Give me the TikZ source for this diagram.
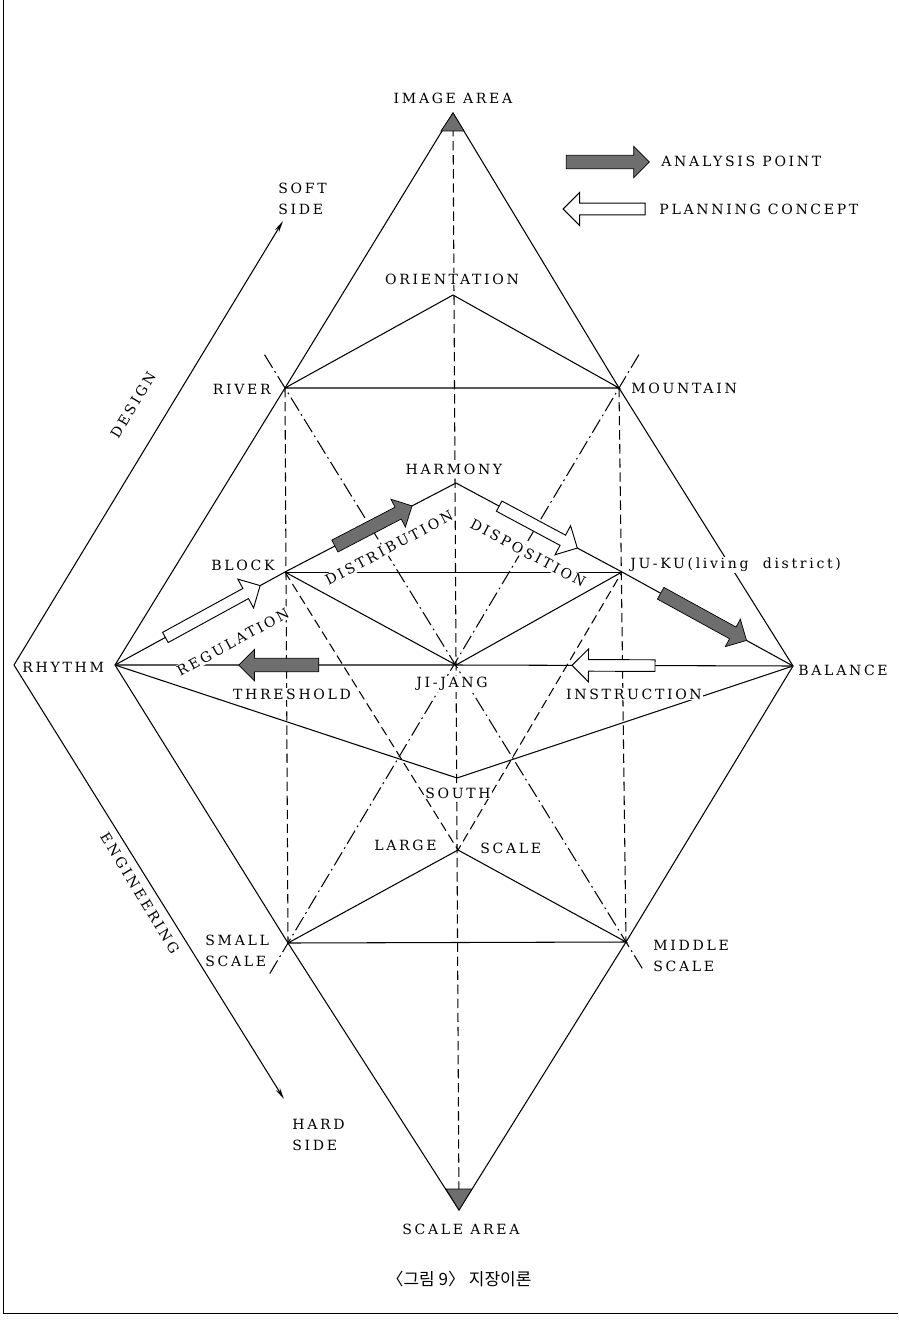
\documentclass[tikz,border=0pt]{standalone}
\usepackage{fontspec}
\usepackage{tikz}
\usetikzlibrary{arrows.meta,shapes.arrows,calc}
\newfontfamily\lblfont[LetterSpace=19]{DejaVu Serif}
\newfontfamily\kofont{Noto Sans CJK KR}
\definecolor{tone}{HTML}{6E6E6E}

\begin{document}
\begin{tikzpicture}[x=0.03cm,y=-0.03cm,
  lbl/.style={font=\lblfont\fontsize{12}{18.5}\selectfont,inner sep=1pt,fill=white,align=left},
  solidln/.style={line width=0.9pt},
  dashln/.style={line width=0.9pt,dash pattern=on 8pt off 4pt},
  chainln/.style={line width=0.9pt,dash pattern=on 13pt off 3.5pt on 1.5pt off 3.5pt},
  anaarrow/.style={single arrow,draw=black,line width=0.6pt,fill=tone,inner xsep=0pt,inner ysep=0.19cm,single arrow head extend=0.27cm},
  plnarrow/.style={single arrow,draw=black,line width=0.8pt,fill=white,inner xsep=0pt,inner ysep=0.16cm,single arrow head extend=0.32cm}]
\useasboundingbox (0,0) rectangle (898,1323);
% frame
\draw[line width=0.8pt] (3,0) -- (3,1313) -- (898,1313);

% points of the diagram
\coordinate (imgapex) at (453,113);
\coordinate (sclapex) at (459,1210);
\coordinate (rhythm) at (115,665);
\coordinate (balance) at (793,666);
\coordinate (river) at (285,388);
\coordinate (mountain) at (619,388);
\coordinate (orient) at (453,295);
\coordinate (harmony) at (456,483);
\coordinate (block) at (285,572);
\coordinate (juku) at (622,572);
\coordinate (jijang) at (456,665);
\coordinate (south) at (457,778);
\coordinate (large) at (458,850);
\coordinate (small) at (288,943);
\coordinate (middle) at (626,942);
\coordinate (rivtop) at ($(river)!-0.06!(middle)$);
\coordinate (midbot) at ($(middle)!-0.05!(river)$);
\coordinate (mnttop) at ($(mountain)!-0.06!(small)$);
\coordinate (smlbot) at ($(small)!-0.06!(mountain)$);
\coordinate (softtip) at (283,221);
\coordinate (bend) at (14,665);
\coordinate (hardtip) at (284,1099);

% design / engineering bracket
\draw[line width=0.9pt,{Stealth[open,length=10pt,width=4pt]}-{Stealth[open,length=10pt,width=4pt]}] (softtip) -- (bend) -- (hardtip);

% solid lines
\draw[solidln] (imgapex) -- (river) -- (rhythm) -- (small) -- (sclapex) -- (middle) -- (balance) -- (mountain) -- cycle;
\draw[solidln] (river) -- (orient) -- (mountain) -- (river);
\draw[solidln] (rhythm) -- (block) -- (harmony) -- (juku) -- (balance);
\draw[solidln] (rhythm) -- (jijang) -- (balance);
\draw[solidln] (rhythm) -- (south) -- (balance);
\draw[solidln] (block) -- (jijang) -- (juku);
\draw[line width=0.6pt] (block) -- (juku);
\draw[solidln] (small) -- (large) -- (middle) -- (small);
% dashed lines
\draw[dashln] (imgapex) -- (sclapex);
\draw[dashln] (river) -- (small);
\draw[dashln] (mountain) -- (middle);
\draw[dashln] (block) -- (large) -- (juku);
% chain lines
\draw[chainln] (rivtop) -- (midbot);
\draw[chainln] (mnttop) -- (smlbot);

% area marks
\fill[tone,draw=black,line width=0.6pt] (imgapex) -- ++(-12,18) -- ++(23,0) -- cycle;
\fill[tone,draw=black,line width=0.6pt] (sclapex) -- ++(-13,-21) -- ++(26,0) -- cycle;

% arrows on the lines
\path (block) -- (harmony) node[anaarrow,sloped,pos=0.5,minimum height=2.61cm] (distarr) {};
\path (juku) -- (balance) node[anaarrow,sloped,pos=0.46,minimum height=2.94cm] (balarr) {};
\path (jijang) -- (rhythm) node[anaarrow,sloped,allow upside down,pos=0.51,minimum height=2.4cm] (thrarr) {};
\path (rhythm) -- (block) node[plnarrow,sloped,pos=0.56,minimum height=3.24cm] (regarr) {};
\path (harmony) -- (juku) node[plnarrow,sloped,pos=0.48,minimum height=2.66cm] (disarr) {};
\path (balance) -- (jijang) node[plnarrow,sloped,allow upside down,pos=0.524,minimum height=2.49cm] (insarr) {};

% legend
\node[anaarrow,minimum height=2.49cm] (keyana) at (604.5,162) {};
\node[lbl,anchor=west] (keyanatxt) at (660,161) {ANALYSIS POINT};
\node[plnarrow,rotate=180,minimum height=2.46cm] (keypln) at (607,209) {};
\node[lbl,anchor=west] (keyplntxt) at (658,209) {PLANNING CONCEPT};

% labels
\node[lbl] (imgarea) at (453,98) {IMAGE AREA};
\node[lbl,anchor=west] (softside) at (277,199) {SOFT\\SIDE};
\node[lbl] (orientlbl) at (452,279) {ORIENTATION};
\node[lbl,anchor=east] (riverlbl) at (272,389) {RIVER};
\node[lbl,anchor=west] (mountlbl) at (630,388) {MOUNTAIN};
\node[lbl] (harmlbl) at (454,469) {HARMONY};
\node[lbl,anchor=east] (blocklbl) at (276,565) {BLOCK};
\node[lbl,anchor=west] (jukulbl) at (629,565) {JU-KU(living\ \ district)};
\node[lbl,anchor=west] (rhythmlbl) at (21,667) {RHYTHM};
\node[lbl,anchor=west] (ballbl) at (797,670) {BALANCE};
\node[lbl] (threshlbl) at (292,694) {THRESHOLD};
\node[lbl] (jijanglbl) at (452,684) {JI-JANG};
\node[lbl] (instrlbl) at (634,694) {INSTRUCTION};
\node[lbl] (southlbl) at (458,793) {SOUTH};
\node[lbl,anchor=east] (largelbl) at (438,845) {LARGE};
\node[lbl,anchor=west] (scalelbl) at (479,848) {SCALE};
\node[lbl,anchor=west] (smalllbl) at (204,951) {SMALL\\SCALE};
\node[lbl,anchor=west] (middlelbl) at (652,956) {MIDDLE\\SCALE};
\node[lbl,anchor=west] (hardside) at (291,1135) {HARD\\SIDE};
\node[lbl] (sclarea) at (461,1229) {SCALE AREA};
\node[lbl,rotate=28.7] (regullbl) at (233,642) {REGULATION};
\node[lbl,rotate=28] (distrlbl) at (389,548) {DISTRIBUTION};
\node[lbl,rotate=-28] (disposlbl) at (528,553) {DISPOSITION};
\node[lbl,rotate=58.8] (designlbl) at (133,405) {DESIGN};
\node[lbl,rotate=-58.8] (englbl) at (140,893) {ENGINEERING};
\node[font=\kofont\fontsize{14.5}{17}\selectfont] (caption) at (459,1279) {〈그림 9〉 지장이론};
\end{tikzpicture}
\end{document}
